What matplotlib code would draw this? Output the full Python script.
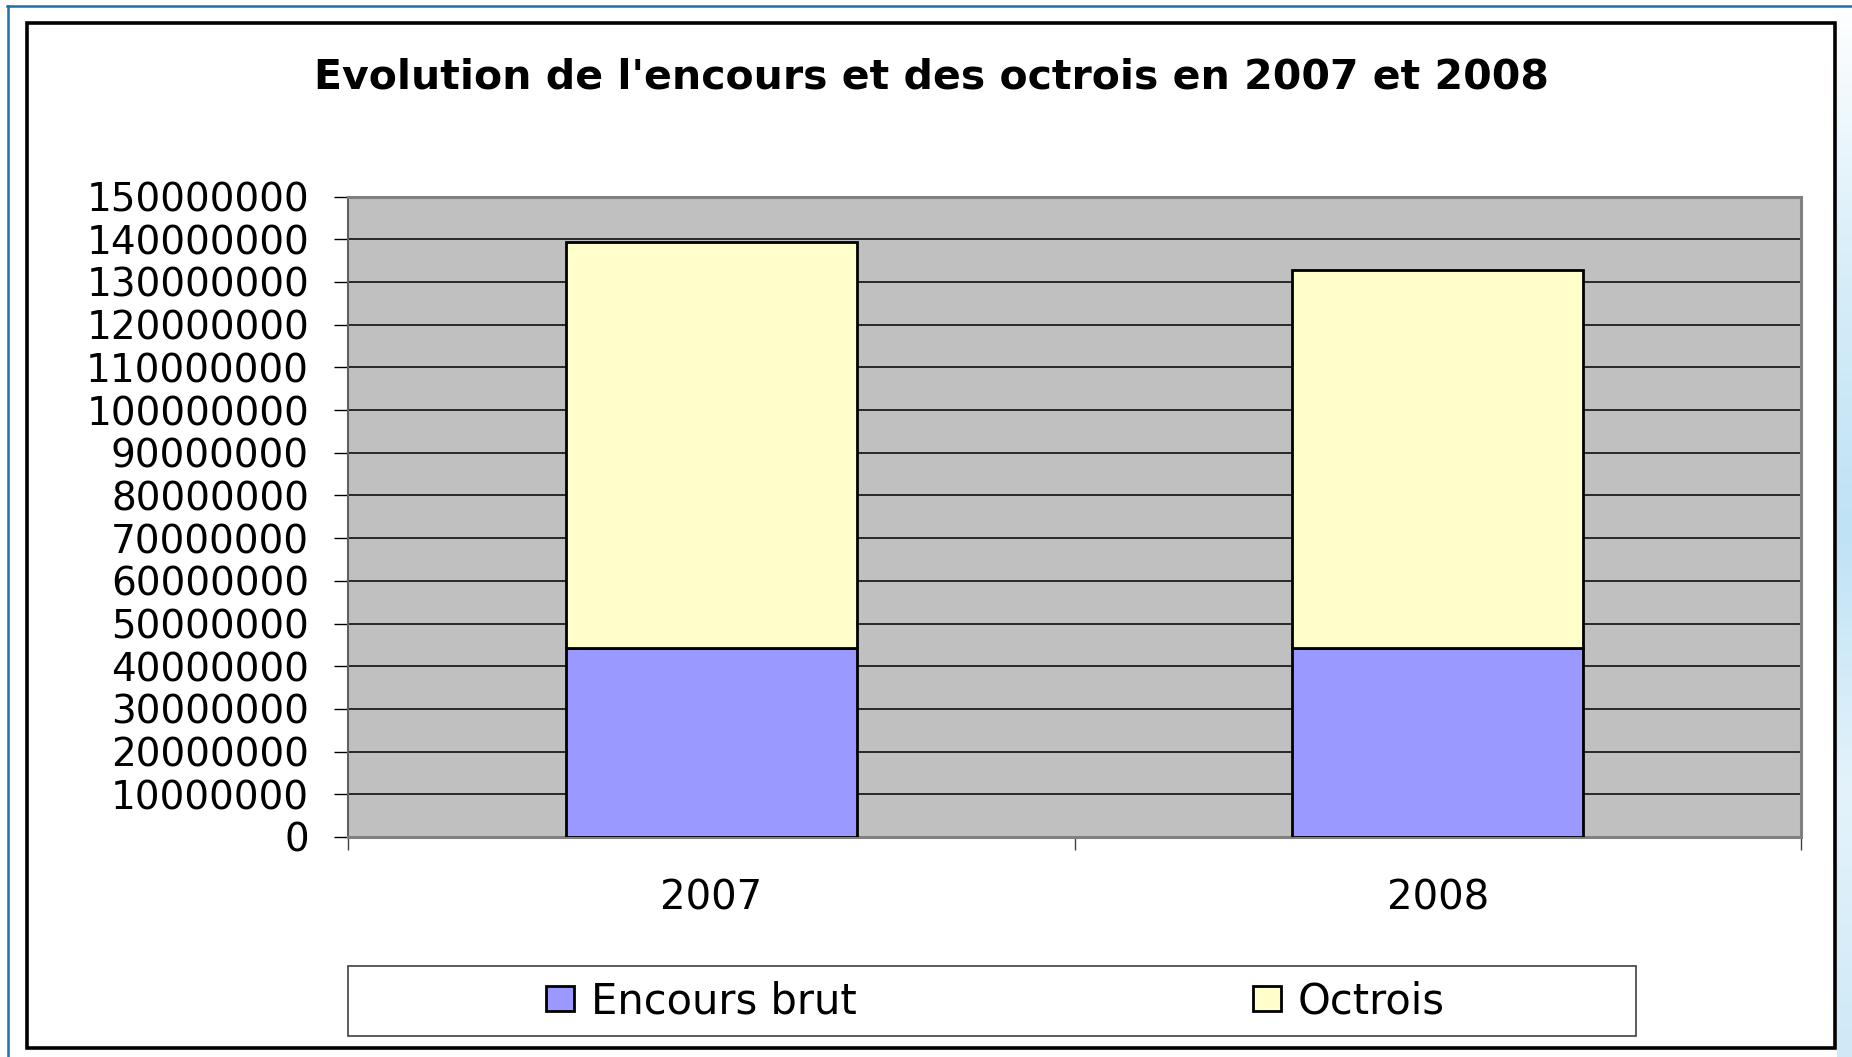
import numpy as np
import matplotlib
matplotlib.use("Agg")
import matplotlib.pyplot as plt
from matplotlib.patches import Rectangle, Patch
from matplotlib.lines import Line2D

# ---- data ----
years = ["2007", "2008"]
encours_brut = [44300000, 44300000]
octrois = [95000000, 88500000]
series_names = ["Encours brut", "Octrois"]
yticks = list(range(0, 150000001, 10000000))

# ---- style ----
plt.rcParams['font.family'] = ['DejaVu Sans']
W, H = 1852, 1057
fig = plt.figure(figsize=(W / 100, H / 100), dpi=100)
fig.patch.set_facecolor('white')

def fx(px):
    return px / W

def fy(py):
    return 1 - py / H

# decorative right-edge pale blue strip
strip = fig.add_axes([fx(1837), 0, fx(W) - fx(1837), 1])
grad = np.linspace(0, 1, 256).reshape(-1, 1)
strip.imshow(grad, aspect='auto', cmap=matplotlib.colors.LinearSegmentedColormap.from_list(
    'pb', ['#ffffff', '#d8eef9', '#bfe2f5', '#e4f3fb', '#cfe9f7']), extent=[0, 1, 0, 1])
strip.set_axis_off()

# blue slide border lines (top & left)
fig.add_artist(Line2D([fx(7), fx(W)], [fy(6), fy(6)], color='#1f6fa8', lw=1.8))
fig.add_artist(Line2D([fx(7.5), fx(7.5)], [fy(6), 0], color='#1f6fa8', lw=1.8))

# chart outer black frame
fig.add_artist(Rectangle((fx(27), fy(1048)), fx(1835) - fx(27), fy(23) - fy(1048),
                         transform=fig.transFigure, fill=False, ec='black', lw=2.6))

# main axes
ax = fig.add_axes([fx(348), fy(837), fx(1801) - fx(348), fy(196.5) - fy(837)])
ax.set_facecolor('#c0c0c0')
x = np.arange(len(years))
bw = 0.4
ax.bar(x, encours_brut, width=bw, color='#9999ff', edgecolor='black', lw=2, zorder=3,
       label=series_names[0])
ax.bar(x, octrois, width=bw, bottom=encours_brut, color='#ffffcc', edgecolor='black', lw=2,
       zorder=3, label=series_names[1])

ax.set_xlim(-0.5, len(years) - 0.5)
ax.set_ylim(0, 150000000)
ax.set_yticks(yticks)
ax.set_yticklabels([str(v) for v in yticks], fontsize=28)
ax.tick_params(axis='y', direction='out', length=10, width=1, color='black', pad=18)
ax.yaxis.grid(True, color='black', lw=1.1, zorder=1)
ax.set_axisbelow(True)

ax.set_xticks(x)
ax.set_xticklabels(years, fontsize=29)
ax.set_xticks(np.arange(-0.5, len(years), 1.0), minor=True)
ax.tick_params(axis='x', which='major', length=0, pad=30)
ax.tick_params(axis='x', which='minor', direction='out', length=9, width=1, color='#404040')

for side in ['top', 'right', 'bottom']:
    ax.spines[side].set_color('#808080')
    ax.spines[side].set_linewidth(2.2)
ax.spines['left'].set_color('#606060')
ax.spines['left'].set_linewidth(1.5)

# title
fig.text(fx(931), fy(88.5), "Evolution de l'encours et des octrois en 2007 et 2008",
         ha='center', va='baseline', fontsize=29.5, fontweight='bold')

# legend box
fig.add_artist(Rectangle((fx(348), fy(1036)), fx(1636) - fx(348), fy(966) - fy(1036),
                         transform=fig.transFigure, fill=False, ec='#404040', lw=1.2))
handles = [Patch(facecolor='#9999ff', edgecolor='black', lw=2),
           Patch(facecolor='#ffffcc', edgecolor='black', lw=2)]
fig.legend(handles, series_names, loc='center left', bbox_to_anchor=(fx(546), fy(1001)),
           bbox_transform=fig.transFigure, ncol=2, frameon=False, fontsize=30,
           handlelength=0.67, handleheight=0.55, handletextpad=0.41, columnspacing=9.5,
           borderpad=0, borderaxespad=0)

fig.savefig('out.png', dpi=100, facecolor='white')
